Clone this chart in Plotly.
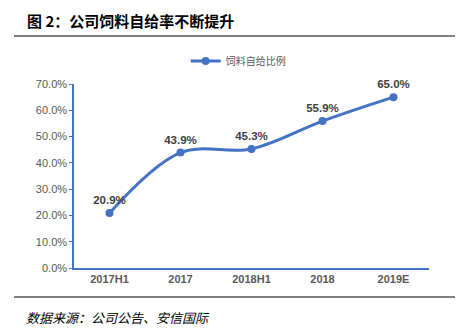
import plotly.graph_objects as go

categories = ["2017H1", "2017", "2018H1", "2018", "2019E"]
values = [20.9, 43.9, 45.3, 55.9, 65.0]
y_ticks = [0, 10, 20, 30, 40, 50, 60, 70]
y_tick_labels = ["0.0%", "10.0%", "20.0%", "30.0%", "40.0%", "50.0%", "60.0%", "70.0%"]
series_name = "饲料自给比例"
title_text = "图 2：公司饲料自给率不断提升"
source_text = "数据来源：公司公告、安信国际"

W, H = 467, 328
BLUE = "#4472C4"
CJK = "Noto Sans CJK SC"

fig = go.Figure()
fig.add_trace(go.Scatter(
    x=categories, y=values, name=series_name,
    mode="lines+markers+text",
    line=dict(color=BLUE, width=3, shape="spline", smoothing=1.0),
    marker=dict(color=BLUE, size=8),
    text=[f"{v:.1f}%" for v in values],
    textposition="top center",
    cliponaxis=False,
    textfont=dict(family="Arial, Liberation Sans", size=11.5, color="#404040", weight="bold"),
))

fig.update_layout(
    width=W, height=H,
    margin=dict(l=0, r=0, t=0, b=0, autoexpand=False),
    paper_bgcolor="white", plot_bgcolor="white",
    showlegend=True,
    legend=dict(orientation="h", x=0.51, xanchor="center", y=1 - 61 / H, yanchor="middle",
                font=dict(family=CJK, size=10, color="#595959"),
                bgcolor="rgba(0,0,0,0)", itemwidth=30),
    xaxis=dict(domain=[74 / W, 429 / W], range=[-0.5, 4.5], type="category", automargin=False,
               showline=True, linecolor=BLUE, linewidth=1.5, showgrid=False, ticks="",
               tickfont=dict(family="Arial, Liberation Sans", size=11, color="#595959", weight="bold")),
    yaxis=dict(domain=[1 - 268 / H, 1 - 84 / H], range=[0, 70], automargin=False,
               tickvals=y_ticks, ticktext=y_tick_labels,
               showline=True, linecolor=BLUE, linewidth=1.5, showgrid=False,
               ticks="outside", ticklen=3, tickcolor=BLUE, zeroline=False,
               tickfont=dict(family="Arial, Liberation Sans", size=11, color="#595959")),
    annotations=[
        dict(text=f"<b>{title_text}</b>", x=25 / W, y=1 - 20 / H, xref="paper", yref="paper",
             xanchor="left", yanchor="middle", showarrow=False,
             font=dict(family=CJK, size=15, color="#000000")),
        dict(text=f"<i>{source_text}</i>", x=24 / W, y=1 - 317 / H, xref="paper", yref="paper",
             xanchor="left", yanchor="middle", showarrow=False,
             font=dict(family=CJK, size=13, color="#000000")),
    ],
    shapes=[
        dict(type="line", xref="paper", yref="paper", x0=14 / W, x1=455 / W,
             y0=1 - 36 / H, y1=1 - 36 / H, line=dict(color="#7f7f7f", width=2)),
        dict(type="line", xref="paper", yref="paper", x0=14 / W, x1=455 / W,
             y0=1 - 297 / H, y1=1 - 297 / H, line=dict(color="#000000", width=1.2)),
    ],
)

fig.write_html("out.html")
